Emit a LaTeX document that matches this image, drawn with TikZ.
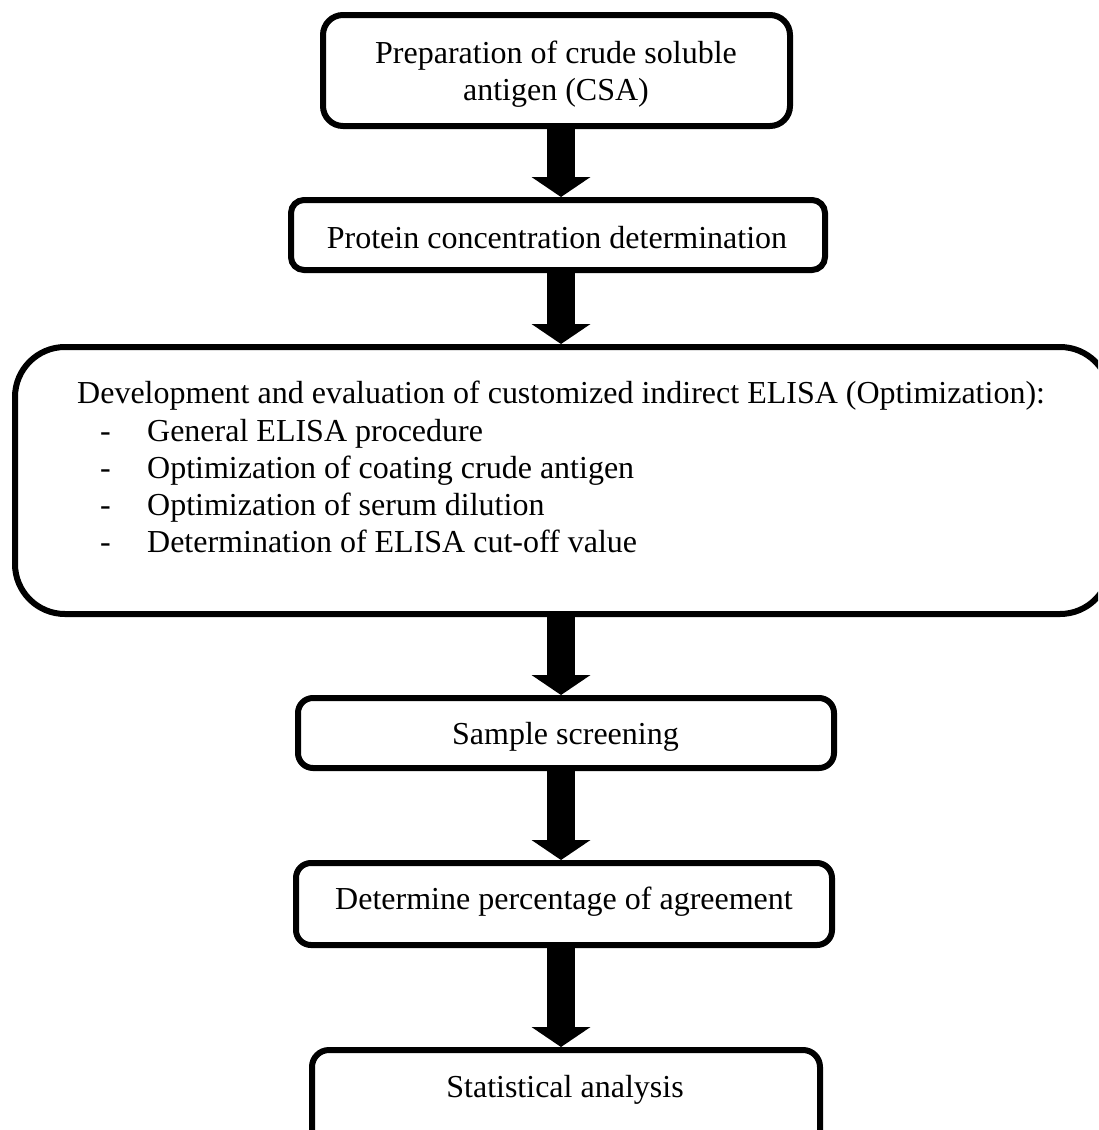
\documentclass[tikz,border=0pt]{standalone}
\usepackage{fontspec}
\setmainfont{Liberation Serif}
\usetikzlibrary{arrows.meta}
\begin{document}
\begin{tikzpicture}[x=1pt,y=-1pt,
  box/.style={draw=black, line width=6pt, rounded corners=#1, inner sep=0pt},
  box/.default=15pt,
  lbl/.style={inner sep=0pt, font=\fontsize{32}{37}\selectfont},
  flow/.style={line width=28pt, -{Triangle[width=59pt,length=20pt,line width=0pt]}}]
\useasboundingbox (0,0) rectangle (1098,1130);
\clip (0,0) rectangle (1098,1130);

% boxes
\node[box=20pt, minimum width=467pt, minimum height=111pt] (b1) at (556.5,70.5) {};
\node[box=13pt, minimum width=534pt, minimum height=70pt] (b2) at (558,235) {};
\node[box=50pt, minimum width=1095pt, minimum height=267pt] (b3) at (562.5,480.5) {};
\node[box=15pt, minimum width=536pt, minimum height=70pt] (b4) at (566,733) {};
\node[box=15pt, minimum width=536pt, minimum height=82pt] (b5) at (564,904) {};
\node[box=17pt, minimum width=508pt, minimum height=110pt] (b6) at (566,1105) {};

% texts
\node[lbl, anchor=base] (t1a) at (556,63) {Preparation of crude soluble};
\node[lbl, anchor=base] (t1b) at (556,100) {antigen (CSA)};
\node[lbl, anchor=base] (t2) at (557,248) {Protein concentration determination};
\node[lbl, anchor=base west] (t3) at (77,403) {Development and evaluation of customized indirect ELISA (Optimization):};
\node[lbl, anchor=base west] (t3a) at (100,441) {\makebox[47pt][l]{-}General ELISA procedure};
\node[lbl, anchor=base west] (t3b) at (100,478) {\makebox[47pt][l]{-}Optimization of coating crude antigen};
\node[lbl, anchor=base west] (t3c) at (100,515) {\makebox[47pt][l]{-}Optimization of serum dilution};
\node[lbl, anchor=base west] (t3d) at (100,552) {\makebox[47pt][l]{-}Determination of ELISA cut-off value};
\node[lbl, anchor=base] (t4) at (565.5,744) {Sample screening};
\node[lbl, anchor=base] (t5) at (564,909) {Determine percentage of agreement};
\node[lbl, anchor=base] (t6) at (565,1097) {Statistical analysis};

% arrows
\coordinate (ax) at (561,0);
\draw[flow] (b1.south -| ax) -- (b2.north -| ax);
\draw[flow] (b2.south -| ax) -- (b3.north -| ax);
\draw[flow] (b3.south -| ax) -- (b4.north -| ax);
\draw[flow] (b4.south -| ax) -- (b5.north -| ax);
\draw[flow] (b5.south -| ax) -- (b6.north -| ax);
\end{tikzpicture}
\end{document}
